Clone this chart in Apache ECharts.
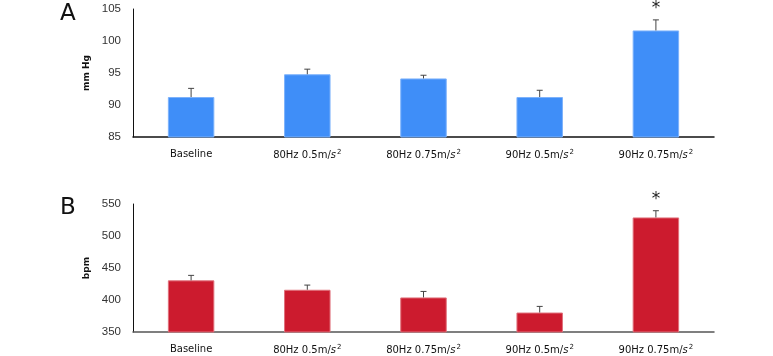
<!DOCTYPE html>
<html>
<head>
<meta charset="utf-8">
<script src="https://cdn.jsdelivr.net/npm/echarts@6/dist/echarts.min.js"></script>
<style>
  html, body { margin: 0; padding: 0; background: #fff; }
  #chart { width: 773px; height: 356px; }
</style>
</head>
<body>
<div id="chart"></div>
<script>
const categories = ['Baseline', '80Hz 0.5m/s^2', '80Hz 0.75m/s^2', '90Hz 0.5m/s^2', '90Hz 0.75m/s^2']

// panel A: pressure (mm Hg)
const pressureMean = [91.25, 94.8, 94.15, 91.25, 101.65]
const pressureErr = [1.35, 0.8, 0.5, 1.05, 1.65]
// panel B: heart rate (bpm)
const rateMean = [430.7, 416, 404, 380.4, 529]
const rateErr = [7.8, 7.3, 9.4, 9.6, 10.5]
const signif = ['', '', '', '', '*']

const chart = echarts.init(document.getElementById('chart'))

const catLabel = (v) => v.replace(/s\^2$/, '{i|s}{sup|2}')
const richStyle = {
  i: { fontStyle: 'italic', fontSize: 10, color: '#111', fontFamily: 'DejaVu Sans' },
  sup: { fontSize: 7, color: '#111', verticalAlign: 'top', padding: [0, 0, 6, 1], fontFamily: 'DejaVu Sans' },
}

function xAxisFor(grid, lineColor) {
  return {
    type: 'category',
    gridIndex: grid,
    data: categories,
    axisLine: { lineStyle: { color: lineColor, width: 1.5 } },
    axisTick: { show: false },
    axisLabel: {
      interval: 0,
      color: '#111', fontSize: 10, fontFamily: 'DejaVu Sans', margin: 12,
      formatter: catLabel, rich: richStyle,
    },
  }
}

function yAxisFor(grid, name, min, max, step, lineColor) {
  return {
    type: 'value',
    gridIndex: grid,
    min, max, interval: step,
    name,
    nameLocation: 'middle',
    nameGap: 31,
    nameTextStyle: { color: '#111', fontSize: 9, fontWeight: 'bold', fontFamily: 'DejaVu Sans' },
    axisLine: { show: true, lineStyle: { color: lineColor, width: 1 } },
    axisTick: { show: false },
    splitLine: { show: false },
    axisLabel: { color: '#333', fontSize: 11.5, fontFamily: 'Liberation Sans', margin: 12 },
  }
}

function errorSeries(idx, means, errs) {
  return {
    type: 'custom',
    xAxisIndex: idx,
    yAxisIndex: idx,
    z: 5,
    data: means.map((m, i) => [i, m, m + errs[i]]),
    renderItem: (params, api) => {
      const base = api.coord([api.value(0), api.value(1)])
      const top = api.coord([api.value(0), api.value(2)])
      const children = [
        { type: 'line', shape: { x1: base[0], y1: base[1], x2: top[0], y2: top[1] }, style: { stroke: '#444', lineWidth: 1 } },
        { type: 'line', shape: { x1: top[0] - 3, y1: top[1], x2: top[0] + 3, y2: top[1] }, style: { stroke: '#444', lineWidth: 1 } },
      ]
      const mark = signif[params.dataIndex]
      if (mark) {
        children.push({
          type: 'text',
          style: { text: mark, x: top[0], y: top[1] - 3, align: 'center', verticalAlign: 'bottom', fontSize: 17, fill: '#222', fontFamily: 'DejaVu Sans' },
        })
      }
      return { type: 'group', children }
    },
  }
}

chart.setOption({
  animation: false,
  backgroundColor: '#fff',
  grid: [
    { left: 133, top: 9, width: 581, height: 128 },
    { left: 133, top: 204, width: 581, height: 128 },
  ],
  graphic: [
    { type: 'text', left: 60, top: 3, style: { text: 'A', fontSize: 23, fill: '#111', fontFamily: 'DejaVu Sans' } },
    { type: 'text', left: 60, top: 197, style: { text: 'B', fontSize: 23, fill: '#111', fontFamily: 'DejaVu Sans' } },
  ],
  xAxis: [xAxisFor(0, '#111'), xAxisFor(1, '#555')],
  yAxis: [
    yAxisFor(0, 'mm Hg', 85, 105, 5, '#111'),
    yAxisFor(1, 'bpm', 350, 550, 50, '#111'),
  ],
  series: [
    {
      type: 'bar', xAxisIndex: 0, yAxisIndex: 0, data: pressureMean, barWidth: '40%',
      itemStyle: { color: '#3f8ef8', borderColor: '#7db2fb', borderWidth: 1 },
    },
    {
      type: 'bar', xAxisIndex: 1, yAxisIndex: 1, data: rateMean, barWidth: '40%',
      itemStyle: { color: '#cc1b2e', borderColor: '#e0707b', borderWidth: 1 },
    },
    errorSeries(0, pressureMean, pressureErr),
    errorSeries(1, rateMean, rateErr),
  ],
})
</script>
</body>
</html>
